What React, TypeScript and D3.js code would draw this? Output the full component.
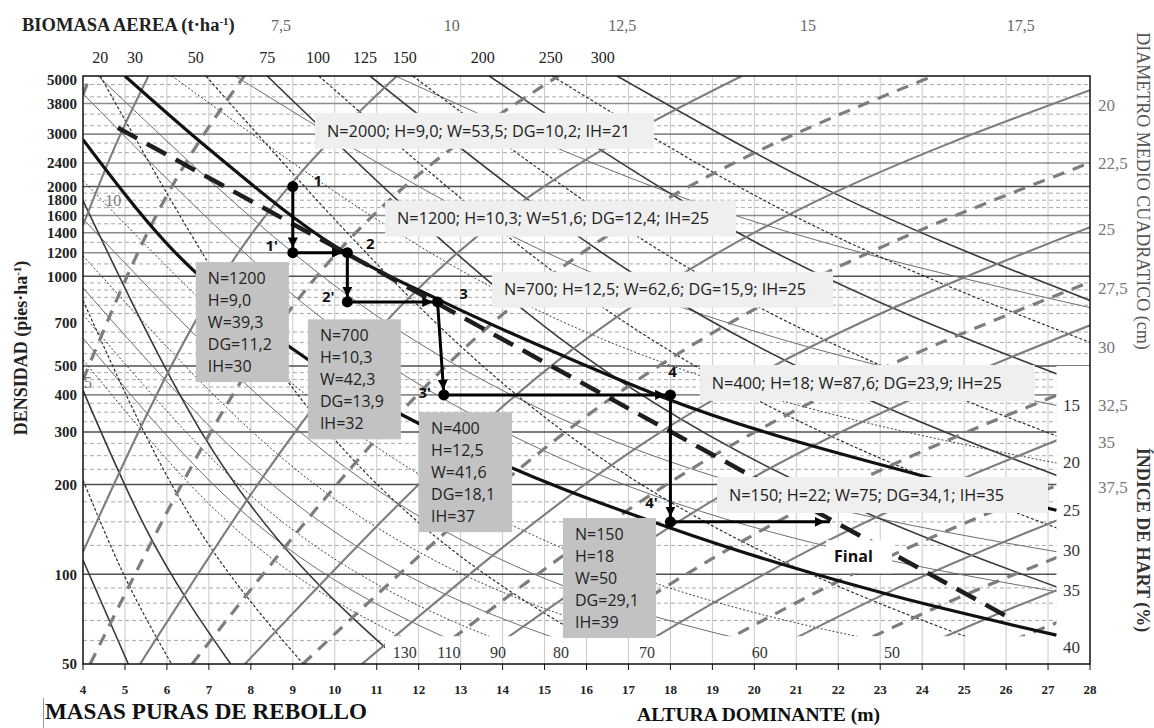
import React from "react";
import * as d3 from "d3";

type Pt = [number, number];

// ---------------- axis data ----------------
const HEIGHT_TICKS = [4, 5, 6, 7, 8, 9, 10, 11, 12, 13, 14, 15, 16, 17, 18, 19, 20, 21, 22, 23, 24, 25, 26, 27, 28];
const DENSITY_TICKS = [5000, 3800, 3000, 2400, 2000, 1800, 1600, 1400, 1200, 1000, 700, 500, 400, 300, 200, 100, 50];
const DENSITY_SOLID_DARK = [100, 200, 300, 500, 1000, 2000];
const DENSITY_SOLID_LIGHT = [400, 1200, 1400, 1600, 2400, 3000, 3800];
const DENSITY_DASHED = [60, 70, 80, 90, 125, 150, 175, 225, 250, 275, 325, 350, 375, 425, 450, 475, 550, 600, 650, 750, 800, 850, 900, 950, 1100, 1300, 1500, 1700, 1800, 1900, 2200, 2600, 2800, 3200, 3500, 4000, 4400];

const BIOMASS_LABELS = ["7,5", "10", "12,5", "15", "17,5"];
const BIOMASS_LABEL_H = [8.72, 12.79, 16.85, 21.28, 26.35];
const TOP_LABELS = ["20", "30", "50", "75", "100", "125", "150", "200", "250", "300"];
const TOP_LABEL_H = [4.41, 5.24, 6.69, 8.39, 9.6, 10.72, 11.67, 13.53, 15.15, 16.39];
const BOTTOM_IN_LABELS = ["130", "110", "90", "80", "70", "60", "50"];
const BOTTOM_IN_H = [11.67, 12.72, 13.89, 15.39, 17.44, 20.13, 23.28];
const HART_LABELS = ["15", "20", "25", "30", "35", "40"];
const HART_LABEL_N = [370, 238, 164, 121, 88.6, 57];
const DG_LABELS = ["20", "22,5", "25", "27,5", "30", "32,5", "35", "37,5"];
const DG_LABEL_N = [3758, 2404, 1437, 913, 580, 370, 278, 196];
const LEFT_IN_LABELS = ["10", "5"];
const LEFT_IN_H = [4.72, 4.12];
const LEFT_IN_N = [1795, 442];

// ---------------- isolines (H, N) ----------------
const DG_SOLID: Pt[][] = [
  [[4, 119], [6.78, 748], [11.48, 4700]],
  [[4, 1484], [4.72, 2642], [5.56, 4700]],
  [[5.36, 50], [10.28, 500], [19.7, 4700]],
  [[7.86, 50], [14.83, 459], [28, 4210]],
  [[10.65, 50], [17.27, 270], [28, 1461]],
  [[13.23, 50], [19.25, 185], [28, 685]],
  [[16.56, 50], [21.53, 125], [28, 312]],
  [[19.78, 50], [23.53, 91.6], [28, 168]],
  [[23.09, 50], [25.43, 70], [28, 97.9]],
  [[26.5, 50], [28, 60.5]],
];
const DG_DASHED: Pt[][] = [
  [[4, 449], [5.6, 1460], [7.84, 4700]],
  [[4, 4065], [4.17, 4700]],
  [[4.17, 50], [8.0, 500], [15.33, 4700]],
  [[6.6, 50], [12.65, 500], [24.26, 4700]],
  [[9.24, 50], [16.08, 346], [28, 2404]],
  [[12.02, 50], [18.35, 219], [28, 957]],
  [[15.0, 50], [20.49, 148.6], [28, 442]],
  [[18.3, 50], [22.64, 105], [28, 220]],
  [[21.47, 50], [24.52, 79.4], [28, 126]],
  [[24.8, 50], [28, 76.5]],
];
const VOL_SOLID: Pt[][] = [
  [[8.39, 4700], [15.33, 625], [28, 82.6]],
  [[10.84, 4700], [17.42, 957], [28, 195]],
  [[13.68, 4700], [19.57, 1410], [28, 426]],
  [[16.73, 4700], [21.64, 1980], [28, 830]],
  [[4, 1795], [6.82, 300], [11.64, 50]],
  [[4, 414], [5.48, 144], [7.52, 50]],
  [[4, 111.6], [5.08, 50]],
];
const VOL_DOTTED: Pt[][] = [
  [[4.41, 4700], [8.68, 484], [17.08, 50]],
  [[6.93, 4700], [13.64, 484], [26.84, 50]],
  [[9.62, 4700], [16.41, 783], [28, 130]],
  [[11.86, 4700], [18.22, 1111], [28, 264]],
  [[15.18, 4700], [20.62, 1683], [28, 600]],
  [[4, 830], [6.08, 204], [9.25, 50]],
  [[4, 207], [4.94, 102], [6.11, 50]],
];
const HART_SOLID: Pt[][] = [
  [[11.45, 4700], [17.9, 1924], [28, 785]],
  [[7.63, 4700], [14.6, 1286], [28, 349]],
  [[4.36, 4700], [11.05, 729], [28, 114]],
  [[4, 4100], [10.58, 586], [28, 83.6]],
  [[4, 1559], [9.45, 279], [22.34, 50]],
  [[4, 914], [8.27, 214], [17.11, 50]],
  [[4, 620], [7.51, 176.6], [14.1, 50]],
];
const HART_DOTTED: Pt[][] = [
  [[6.12, 4700], [13.09, 1031], [28, 224.6]],
  [[4, 2094], [10.17, 323], [25.87, 50]],
  [[4, 1171], [8.8, 242], [19.36, 50]],
  [[4, 743], [7.85, 192], [15.41, 50]],
  [[4, 525], [7.2, 162], [12.95, 50]],
];
const LIMIT_UPPER: Pt[] = [[5.0, 4700], [7.03, 2652], [10.05, 1250], [12.51, 830], [15.84, 512], [17.82, 393], [24.11, 212], [27.2, 164]];
const LIMIT_LOWER: Pt[] = [[4, 2874], [6, 1286], [9, 570], [13, 273], [18, 143], [23, 87], [27.2, 62.5]];
const OPTIMAL_DASHED: Pt[] = [[4.83, 3150], [26.09, 71.3]];

// ---------------- thinning schedule ----------------
const PATH_H = [9.0, 9.0, 10.3, 10.3, 12.45, 12.6, 18, 18, 21.8];
const PATH_N = [2000, 1200, 1200, 820, 820, 400, 400, 150, 150];
const PATH_LABELS = ["1", "1'", "2", "2'", "3", "3'", "4", "4'"];
const PATH_LABEL_DX = [25, -21, 23, -19, 26, -19, 2, -19];
const PATH_LABEL_DY = [-6, -7, -9, -5, -8, -2, -23, -19];

const NOTE_LIGHT = [
  "N=2000; H=9,0; W=53,5; DG=10,2; IH=21",
  "N=1200; H=10,3; W=51,6; DG=12,4; IH=25",
  "N=700; H=12,5; W=62,6; DG=15,9; IH=25",
  "N=400; H=18; W=87,6; DG=23,9; IH=25",
  "N=150; H=22; W=75; DG=34,1; IH=35",
];
const NOTE_LIGHT_H = [9.53, 11.2, 13.75, 18.7, 19.11];
const NOTE_LIGHT_N = [3536, 1795, 1036, 504, 212];
const NOTE_LIGHT_W = [339, 351, 341, 335, 331];
const NOTE_LIGHT_TW = [303, 312, 302, 290, 275];

const NOTE_DARK = [
  ["N=1200", "H=9,0", "W=39,3", "DG=11,2", "IH=30"],
  ["N=700", "H=10,3", "W=42,3", "DG=13,9", "IH=32"],
  ["N=400", "H=12,5", "W=41,6", "DG=18,1", "IH=37"],
  ["N=150", "H=18", "W=50", "DG=29,1", "IH=39"],
];
const NOTE_DARK_H = [6.69, 9.36, 12.01, 15.44];
const NOTE_DARK_N = [1116, 717, 350, 154.5];
const FINAL_H = 21.9;
const FINAL_N = 115;

const SERIF = "'Liberation Serif', 'DejaVu Serif', serif";
const SANS = "'Open Sans', 'Liberation Sans', sans-serif";

export default function App() {
  const x = d3.scaleLinear().domain([4, 28]).range([83, 1090]);
  const y = d3.scaleLog().domain([50, 4700]).range([664, 76]);
  const X0 = x(4), X1 = x(28), Y0 = y(4700), Y1 = y(50);
  const bandX = x(27.2), bandTopY = y(500), bottomBandY = y(62), bottomBandX = x(11.2);
  const clipPts = `${X0},${Y0} ${X1},${Y0} ${X1},${bandTopY} ${bandX},${bandTopY} ${bandX},${bottomBandY} ${bottomBandX},${bottomBandY} ${bottomBandX},${Y1} ${X0},${Y1}`;

  const line = d3.line<Pt>().x((d) => x(d[0])).y((d) => y(d[1])).curve(d3.curveMonotoneX);
  const straight = d3.line<Pt>().x((d) => x(d[0])).y((d) => y(d[1]));

  const yTick = (v: number) => y(Math.min(v, 4700));

  return (
    <svg width={1154} height={728} style={{ position: "absolute", left: 0, top: 0, background: "#fff" }}>
      <defs>
        <clipPath id="plotclip">
          <polygon points={clipPts} />
        </clipPath>
        <clipPath id="plotrect">
          <rect x={X0} y={Y0} width={X1 - X0} height={Y1 - Y0} />
        </clipPath>
        <marker id="arr" viewBox="0 0 10 10" refX="15" refY="5" markerWidth="3.4" markerHeight="3.4" orient="auto">
          <path d="M0,0 L10,5 L0,10 z" fill="#000" />
        </marker>
      </defs>
      <rect width={1154} height={728} fill="#fff" />

      {/* vertical grid */}
      {HEIGHT_TICKS.slice(1, -1).map((h) => (
        <line key={"vg" + h} x1={x(h)} x2={x(h)} y1={Y0} y2={Y1} stroke="#c9c9c9" strokeWidth={1} />
      ))}

      <g clipPath="url(#plotclip)">
        {DENSITY_DASHED.map((v) => (
          <line key={"hd" + v} x1={X0} x2={X1} y1={y(v)} y2={y(v)} stroke="#a8a8a8" strokeWidth={1} strokeDasharray="4 3" />
        ))}
        {DENSITY_SOLID_LIGHT.map((v) => (
          <line key={"hs" + v} x1={X0} x2={X1} y1={y(v)} y2={y(v)} stroke="#8c8c8c" strokeWidth={1.6} />
        ))}
        {DENSITY_SOLID_DARK.map((v) => (
          <line key={"hk" + v} x1={X0} x2={X1} y1={y(v)} y2={y(v)} stroke="#505050" strokeWidth={1.5} />
        ))}
        {HART_SOLID.map((l, i) => (
          <path key={"hs" + i} d={line(l) || ""} fill="none" stroke="#6e6e6e" strokeWidth={1} />
        ))}
        {HART_DOTTED.map((l, i) => (
          <path key={"ht" + i} d={line(l) || ""} fill="none" stroke="#404040" strokeWidth={1} strokeDasharray="2 2" />
        ))}
        {VOL_SOLID.map((l, i) => (
          <path key={"vs" + i} d={line(l) || ""} fill="none" stroke="#3a3a3a" strokeWidth={1.6} />
        ))}
        {VOL_DOTTED.map((l, i) => (
          <path key={"vd" + i} d={line(l) || ""} fill="none" stroke="#2e2e2e" strokeWidth={1.2} strokeDasharray="3 2" />
        ))}
        {DG_SOLID.map((l, i) => (
          <path key={"ds" + i} d={line(l) || ""} fill="none" stroke="#7d7d7d" strokeWidth={2.1} />
        ))}
        {DG_DASHED.map((l, i) => (
          <path key={"dd" + i} d={line(l) || ""} fill="none" stroke="#7d7d7d" strokeWidth={3.2} strokeDasharray="12 9" />
        ))}
      </g>

      <g clipPath="url(#plotrect)">
        <path d={line(LIMIT_UPPER) || ""} fill="none" stroke="#111" strokeWidth={3.2} />
        <path d={line(LIMIT_LOWER) || ""} fill="none" stroke="#111" strokeWidth={3.2} />
        <path d={straight(OPTIMAL_DASHED) || ""} fill="none" stroke="#1e1e1e" strokeWidth={4.5} strokeDasharray="22 11" />
      </g>

      {/* light annotation boxes */}
      {NOTE_LIGHT.map((t, i) => {
        const bx = x(NOTE_LIGHT_H[i]);
        const by = y(NOTE_LIGHT_N[i]);
        return (
          <g key={"nl" + i}>
            <rect x={bx} y={by} width={NOTE_LIGHT_W[i]} height={36} fill="#efefef" />
            <text x={bx + 12} y={by + 18} dy="0.36em" fontFamily={SANS} fontSize={16} fill="#222" textLength={NOTE_LIGHT_TW[i]} lengthAdjust="spacingAndGlyphs">
              {t}
            </text>
          </g>
        );
      })}

      {/* dark annotation boxes */}
      {NOTE_DARK.map((lines, i) => {
        const bx = x(NOTE_DARK_H[i]);
        const by = y(NOTE_DARK_N[i]);
        return (
          <g key={"nd" + i}>
            <rect x={bx} y={by} width={93} height={120} fill="#c2c2c2" />
            {lines.map((t, j) => (
              <text key={j} x={bx + 12} y={by + 16 + j * 22} dy="0.36em" fontFamily={SANS} fontSize={16} fill="#222">
                {t}
              </text>
            ))}
          </g>
        );
      })}

      {/* Final label */}
      <rect x={x(FINAL_H) - 8} y={y(FINAL_N) - 16} width={66} height={33} fill="#fff" />
      <text x={x(FINAL_H)} y={y(FINAL_N)} dy="0.36em" fontFamily={SANS} fontWeight="bold" fontSize={16} fill="#111">
        Final
      </text>

      {/* thinning path */}
      {PATH_H.slice(1).map((h, i) => (
        <line
          key={"seg" + i}
          x1={x(PATH_H[i])}
          y1={y(PATH_N[i])}
          x2={x(h)}
          y2={y(PATH_N[i + 1])}
          stroke="#000"
          strokeWidth={3}
          markerEnd="url(#arr)"
        />
      ))}
      {PATH_LABELS.map((lab, i) => (
        <g key={"pt" + i}>
          <circle cx={x(PATH_H[i])} cy={y(PATH_N[i])} r={5.5} fill="#000" />
          <text
            x={x(PATH_H[i]) + PATH_LABEL_DX[i]}
            y={y(PATH_N[i]) + PATH_LABEL_DY[i]}
            dy="0.36em"
            textAnchor="middle"
            fontFamily={SANS}
            fontWeight="bold"
            fontSize={15}
            fill="#111"
          >
            {lab}
          </text>
        </g>
      ))}

      {/* in-plot labels */}
      {BOTTOM_IN_LABELS.map((t, i) => (
        <text key={"bi" + i} x={x(BOTTOM_IN_H[i])} y={652} dy="0.35em" textAnchor="middle" fontFamily={SERIF} fontSize={16} fill="#333">
          {t}
        </text>
      ))}
      {HART_LABELS.map((t, i) => (
        <text key={"hl" + i} x={1063} y={y(HART_LABEL_N[i])} dy="0.35em" fontFamily={SERIF} fontSize={17} fill="#333">
          {t}
        </text>
      ))}
      {LEFT_IN_LABELS.map((t, i) => (
        <text key={"li" + i} x={x(LEFT_IN_H[i])} y={y(LEFT_IN_N[i])} dy="0.35em" textAnchor="middle" fontFamily={SERIF} fontSize={16} fill="#777">
          {t}
        </text>
      ))}

      {/* frame */}
      <rect x={X0} y={Y0} width={X1 - X0} height={Y1 - Y0} fill="none" stroke="#111" strokeWidth={1.5} />
      {HEIGHT_TICKS.map((h) => (
        <g key={"xt" + h}>
          <line x1={x(h)} x2={x(h)} y1={Y1} y2={Y1 + 6} stroke="#111" strokeWidth={1} />
          <text x={x(h)} y={689} dy="0.35em" textAnchor="middle" fontFamily={SERIF} fontWeight="bold" fontSize={13} fill="#222">
            {h}
          </text>
        </g>
      ))}
      {DENSITY_TICKS.map((v) => (
        <text key={"yt" + v} x={77} y={yTick(v) + (v === 5000 ? 4 : 0)} dy="0.35em" textAnchor="end" fontFamily={SERIF} fontWeight="bold" fontSize={15} fill="#222">
          {v}
        </text>
      ))}
      {DG_LABELS.map((t, i) => (
        <text key={"dl" + i} x={1098} y={y(DG_LABEL_N[i])} dy="0.35em" fontFamily={SERIF} fontSize={17} fill="#777">
          {t}
        </text>
      ))}

      {/* top labels */}
      <text x={22} y={31} fontFamily={SERIF} fontWeight="bold" fontSize={18.5} fill="#222">
        BIOMASA AEREA (t·ha
        <tspan dy={-6} fontSize={11}>-1</tspan>
        <tspan dy={6}>)</tspan>
      </text>
      {BIOMASS_LABELS.map((t, i) => (
        <text key={"bl" + i} x={x(BIOMASS_LABEL_H[i])} y={31} textAnchor="middle" fontFamily={SERIF} fontSize={16} fill="#666">
          {t}
        </text>
      ))}
      {TOP_LABELS.map((t, i) => (
        <text key={"tl" + i} x={x(TOP_LABEL_H[i])} y={63} textAnchor="middle" fontFamily={SERIF} fontSize={16} fill="#222">
          {t}
        </text>
      ))}

      {/* axis titles */}
      <text transform="translate(27,348) rotate(-90)" textAnchor="middle" fontFamily={SERIF} fontWeight="bold" fontSize={18} fill="#222">
        DENSIDAD (pies·ha
        <tspan dy={-6} fontSize={11}>-1</tspan>
        <tspan dy={6}>)</tspan>
      </text>
      <text transform="translate(1137,191) rotate(90)" textAnchor="middle" fontFamily={SERIF} fontSize={18} fill="#555">
        DIAMETRO MEDIO CUADRATICO (cm)
      </text>
      <text transform="translate(1137,540) rotate(90)" textAnchor="middle" fontFamily={SERIF} fontWeight="bold" fontSize={18} fill="#333">
        ÍNDICE DE HART  (%)
      </text>
      <line x1={43.5} x2={43.5} y1={698} y2={728} stroke="#999" strokeWidth={1} />
      <text x={45} y={719} fontFamily={SERIF} fontWeight="bold" fontSize={23} fill="#111" textLength={322} lengthAdjust="spacingAndGlyphs">
        MASAS PURAS DE REBOLLO
      </text>
      <text x={637} y={721} fontFamily={SERIF} fontWeight="bold" fontSize={19} fill="#111" textLength={243} lengthAdjust="spacingAndGlyphs">
        ALTURA DOMINANTE (m)
      </text>
    </svg>
  );
}
